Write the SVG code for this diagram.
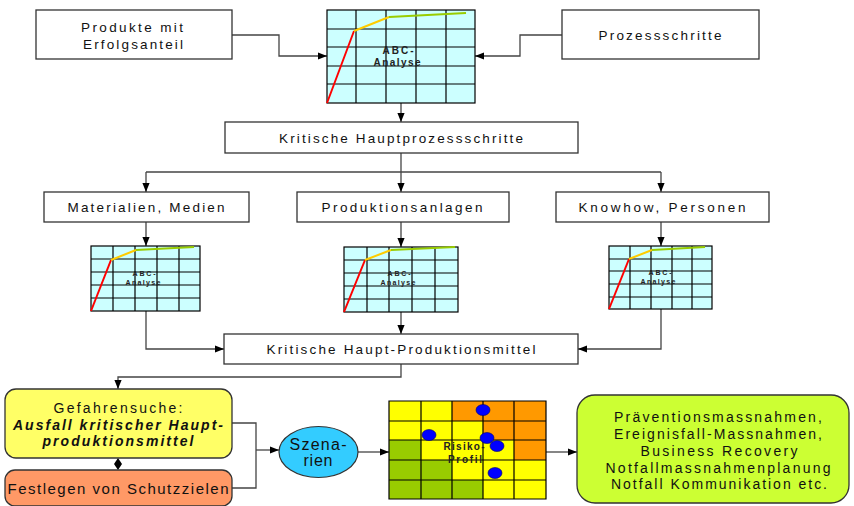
<svg xmlns="http://www.w3.org/2000/svg" width="854" height="506" viewBox="0 0 854 506">
<defs>
<marker id="ah" viewBox="0 0 10 8" refX="10" refY="4" markerWidth="9" markerHeight="8" markerUnits="userSpaceOnUse" orient="auto">
<path d="M0,0 L10,4 L0,8 z" fill="#000"/>
</marker>
<style>
text{font-family:"Liberation Sans",Arial,sans-serif;fill:#111;text-anchor:middle}
.t13{font-size:13.5px}
.t14{font-size:14px}
.box{fill:#fff;stroke:#333;stroke-width:1.3}
.con{fill:none;stroke:#444;stroke-width:1.3}
.arr{marker-end:url(#ah)}
.chart{fill:#ccffff;stroke:#000;stroke-width:1.2}
.grid{fill:none;stroke:#000;stroke-width:1.2}
.red{stroke:#ff0000;stroke-width:2;fill:none}
.yel{stroke:#ffcc00;stroke-width:2;fill:none}
.grn{stroke:#99cc00;stroke-width:2;fill:none}
.abc{font-weight:bold;fill:#222}
.Y{fill:#ffff00}.O{fill:#ff9900}.G{fill:#99cc00}
.dot{fill:#0000ff;stroke:#000066;stroke-width:0.6}
</style>
</defs>

<g id="connectors">
<path class="con arr" d="M232,35 H279 V56 H327"/>
<path class="con arr" d="M562,35 H520 V56 H475"/>
<path class="con arr" d="M401,103 V122"/>
<path class="con arr" d="M401,153 V192"/>
<path class="con" d="M146,172 H661"/>
<path class="con arr" d="M146,172 V192"/>
<path class="con arr" d="M661,172 V192"/>
<path class="con arr" d="M146,222 V246"/>
<path class="con arr" d="M401,222 V247"/>
<path class="con arr" d="M661,222 V246"/>
<path class="con arr" d="M146,311 V349 H224"/>
<path class="con arr" d="M401,312 V334"/>
<path class="con arr" d="M661,309 V349 H578"/>
<path class="con arr" d="M401,364 V377 H118 V389"/>
<path class="con" d="M232,423 H256 V488 H232"/>
<path class="con arr" d="M256,450 H279"/>
<path class="con arr" d="M358,452 H389"/>
<path class="con arr" d="M546,452 H577"/>
<path d="M118,458 L122,464 L118,470 L114,464 z" fill="#000"/>
</g>

<g id="produkte">
<rect class="box" x="36" y="10" width="196" height="49"/>
<text class="t13" x="132" y="32" textLength="102" lengthAdjust="spacing">Produkte mit</text>
<text class="t13" x="133" y="49" textLength="100" lengthAdjust="spacing">Erfolgsanteil</text>
</g>

<g id="prozessschritte">
<rect class="box" x="562" y="10" width="197" height="49"/>
<text class="t13" x="660" y="40" textLength="123" lengthAdjust="spacing">Prozessschritte</text>
</g>

<g id="abc-top">
<rect class="chart" x="327" y="10" width="148" height="93"/>
<path class="grid" d="M356,10 V103 M386,10 V103 M416,10 V103 M446,10 V103 M327,29 H475 M327,47 H475 M327,66 H475 M327,84 H475"/>
<path class="red" d="M327,103 L354,31"/>
<path class="yel" d="M354,31 L389,17"/>
<path class="grn" d="M389,17 L466,13"/>
<text class="abc" x="398" y="54" font-size="10" textLength="31" lengthAdjust="spacing">ABC-</text>
<text class="abc" x="397" y="66" font-size="10" textLength="47" lengthAdjust="spacing">Analyse</text>
</g>

<g id="kritische-hauptprozessschritte">
<rect class="box" x="225" y="122" width="353" height="31"/>
<text class="t13" x="401" y="143" textLength="244" lengthAdjust="spacing">Kritische Hauptprozessschritte</text>
</g>

<g id="materialien">
<rect class="box" x="44" y="192" width="205" height="30"/>
<text class="t13" x="146" y="212" textLength="157" lengthAdjust="spacing">Materialien, Medien</text>
</g>
<g id="produktionsanlagen">
<rect class="box" x="297" y="192" width="212" height="30"/>
<text class="t13" x="402" y="212" textLength="161" lengthAdjust="spacing">Produktionsanlagen</text>
</g>
<g id="knowhow">
<rect class="box" x="556" y="192" width="213" height="30"/>
<text class="t13" x="662" y="212" textLength="167" lengthAdjust="spacing">Knowhow, Personen</text>
</g>

<g id="abc-1">
<rect class="chart" x="91" y="246" width="109" height="65"/>
<path class="grid" d="M113,246 V311 M135,246 V311 M157,246 V311 M179,246 V311 M91,259 H200 M91,272 H200 M91,285 H200 M91,298 H200"/>
<path class="red" d="M91,311 L111,260"/>
<path class="yel" d="M111,260 L136,250"/>
<path class="grn" d="M136,250 L194,247"/>
<text class="abc" x="144" y="276" font-size="7" textLength="23" lengthAdjust="spacing">ABC-</text>
<text class="abc" x="143" y="285" font-size="7" textLength="35" lengthAdjust="spacing">Analyse</text>
</g>

<g id="abc-2">
<rect class="chart" x="344" y="247" width="114" height="65"/>
<path class="grid" d="M367,247 V312 M389,247 V312 M412,247 V312 M435,247 V312 M344,260 H458 M344,273 H458 M344,286 H458 M344,299 H458"/>
<path class="red" d="M344,312 L365,260"/>
<path class="yel" d="M365,260 L391,250"/>
<path class="grn" d="M391,250 L455,247"/>
<text class="abc" x="399" y="276" font-size="7" textLength="23" lengthAdjust="spacing">ABC-</text>
<text class="abc" x="398" y="285" font-size="7" textLength="35" lengthAdjust="spacing">Analyse</text>
</g>

<g id="abc-3">
<rect class="chart" x="609" y="246" width="103" height="63"/>
<path class="grid" d="M630,246 V309 M651,246 V309 M672,246 V309 M692,246 V309 M609,259 H712 M609,271 H712 M609,284 H712 M609,297 H712"/>
<path class="red" d="M609,309 L629,259"/>
<path class="yel" d="M629,259 L652,250"/>
<path class="grn" d="M652,250 L705,247"/>
<text class="abc" x="660" y="275" font-size="7" textLength="23" lengthAdjust="spacing">ABC-</text>
<text class="abc" x="658" y="284" font-size="7" textLength="35" lengthAdjust="spacing">Analyse</text>
</g>

<g id="kritische-haupt-produktionsmittel">
<rect class="box" x="224" y="334" width="354" height="30"/>
<text class="t13" x="401" y="354" textLength="269" lengthAdjust="spacing">Kritische Haupt-Produktionsmittel</text>
</g>

<g id="gefahrensuche">
<rect x="5" y="389" width="227" height="69" rx="11" fill="#ffff66" stroke="#333" stroke-width="1.3"/>
<text class="t14" x="118" y="413" textLength="129" lengthAdjust="spacing">Gefahrensuche:</text>
<text class="t14" x="118" y="430" font-weight="bold" font-style="italic" textLength="210" lengthAdjust="spacing">Ausfall kritischer Haupt-</text>
<text class="t14" x="118" y="446" font-weight="bold" font-style="italic" textLength="151" lengthAdjust="spacing">produktionsmittel</text>
</g>

<g id="festlegen">
<rect x="5" y="470" width="227" height="36" rx="10" fill="#ff9966" stroke="#333" stroke-width="1.3"/>
<text x="118" y="494" font-size="15" textLength="221" lengthAdjust="spacing">Festlegen von Schutzzielen</text>
</g>

<g id="szenarien">
<ellipse cx="318.5" cy="452" rx="39.5" ry="25.5" fill="#33ccff" stroke="#333" stroke-width="1.2"/>
<text x="318" y="450" font-size="16" textLength="57" lengthAdjust="spacing">Szena-</text>
<text x="318" y="466" font-size="16" textLength="29" lengthAdjust="spacing">rien</text>
</g>

<g id="risikoprofil">
<rect class="Y" x="389" y="401" width="63" height="39"/>
<rect class="O" x="452" y="401" width="94" height="20"/>
<rect class="Y" x="452" y="421" width="31" height="19"/>
<rect class="O" x="483" y="421" width="63" height="19"/>
<rect class="G" x="389" y="440" width="32" height="59"/>
<rect class="Y" x="421" y="440" width="93" height="20"/>
<rect class="O" x="514" y="440" width="32" height="20"/>
<rect class="G" x="421" y="460" width="31" height="39"/>
<rect class="Y" x="452" y="460" width="94" height="20"/>
<rect class="G" x="452" y="480" width="31" height="19"/>
<rect class="Y" x="483" y="480" width="63" height="19"/>
<path class="grid" stroke-width="1.5" d="M389,401 H546 V499 H389 z M421,401 V499 M452,401 V499 M483,401 V499 M514,401 V499 M389,421 H546 M389,440 H546 M389,460 H546 M389,480 H546"/>
<ellipse class="dot" cx="483" cy="410" rx="7" ry="5.5"/>
<ellipse class="dot" cx="429" cy="435" rx="7" ry="5.5"/>
<ellipse class="dot" cx="487" cy="438" rx="7" ry="5.5"/>
<ellipse class="dot" cx="497" cy="446" rx="7" ry="5.5"/>
<ellipse class="dot" cx="495" cy="473" rx="7" ry="5.5"/>
<text class="abc" x="464" y="450" font-size="10" textLength="41" lengthAdjust="spacing">Risiko-</text>
<text class="abc" x="465" y="463" font-size="10" textLength="34" lengthAdjust="spacing">Profil</text>
</g>

<g id="massnahmen">
<rect x="577" y="395" width="272" height="108" rx="18" fill="#ccff33" stroke="#333" stroke-width="1.3"/>
<text class="t14" x="718" y="422" textLength="208" lengthAdjust="spacing">Präventionsmassnahmen,</text>
<text class="t14" x="718" y="439" textLength="208" lengthAdjust="spacing">Ereignisfall-Massnahmen,</text>
<text class="t14" x="719" y="456" textLength="157" lengthAdjust="spacing">Business Recovery</text>
<text class="t14" x="718" y="473" textLength="225" lengthAdjust="spacing">Notfallmassnahmenplanung</text>
<text class="t14" x="719" y="489" textLength="216" lengthAdjust="spacing">Notfall Kommunikation etc.</text>
</g>
</svg>
